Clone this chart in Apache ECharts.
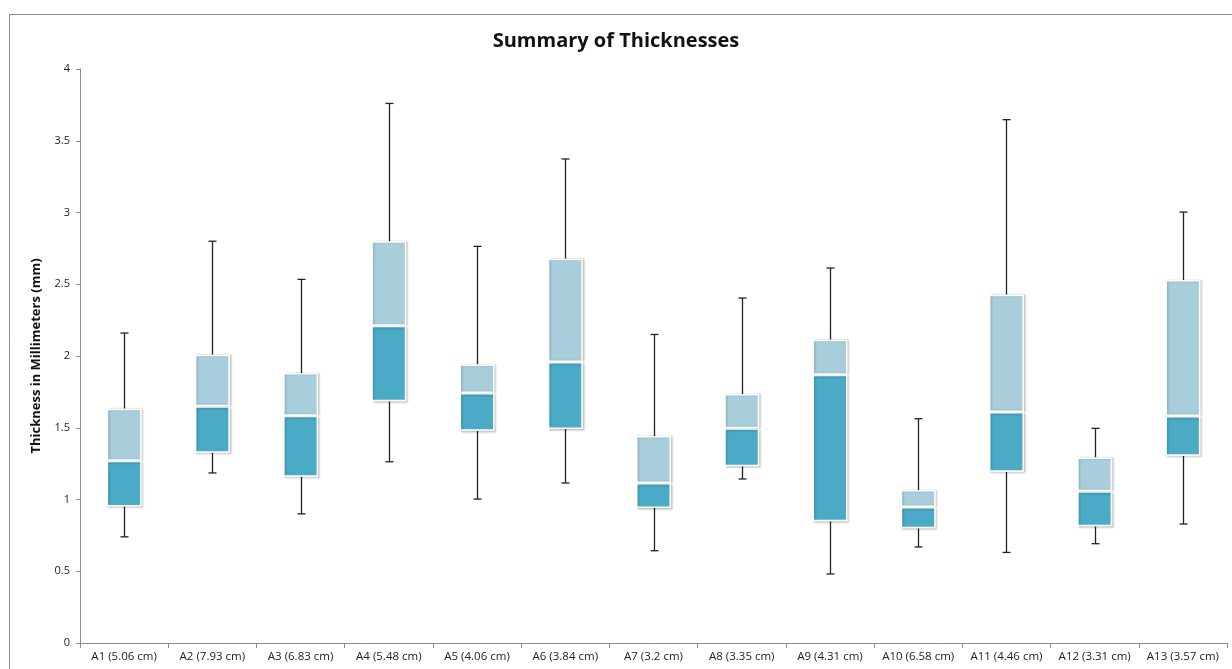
<!DOCTYPE html>
<html>
<head>
<meta charset="utf-8">
<script src="https://cdn.jsdelivr.net/npm/echarts@6/dist/echarts.min.js"></script>
<style>
html,body{margin:0;padding:0;background:#fff;}
#chart{width:1232px;height:669px;}
</style>
</head>
<body>
<div id="chart"></div>
<script>
const categories = ['A1 (5.06 cm)','A2 (7.93 cm)','A3 (6.83 cm)','A4 (5.48 cm)','A5 (4.06 cm)','A6 (3.84 cm)','A7 (3.2 cm)','A8 (3.35 cm)','A9 (4.31 cm)','A10 (6.58 cm)','A11 (4.46 cm)','A12 (3.31 cm)','A13 (3.57 cm)'];
const minVals    = [0.74, 1.185, 0.90, 1.263, 1.003, 1.115, 0.643, 1.143, 0.481, 0.669, 0.631, 0.692, 0.829];
const q1Vals     = [0.952, 1.326, 1.159, 1.684, 1.479, 1.491, 0.941, 1.231, 0.848, 0.799, 1.194, 0.813, 1.305];
const medianVals = [1.27, 1.649, 1.584, 2.211, 1.742, 1.958, 1.115, 1.496, 1.870, 0.948, 1.610, 1.057, 1.582];
const q3Vals     = [1.633, 2.009, 1.881, 2.80, 1.941, 2.678, 1.442, 1.735, 2.114, 1.066, 2.427, 1.293, 2.530];
const maxVals    = [2.16, 2.80, 2.534, 3.760, 2.764, 3.373, 2.150, 2.404, 2.613, 1.563, 3.647, 1.496, 3.003];

const lowerBox = medianVals.map((m, i) => +(m - q1Vals[i]).toFixed(4));
const upperBox = q3Vals.map((q, i) => +(q - medianVals[i]).toFixed(4));
const whiskerData = categories.map((c, i) => [i, minVals[i], q1Vals[i], q3Vals[i], maxVals[i]]);

const chart = echarts.init(document.getElementById('chart'));
const boxStyle = (color, offY) => ({
  color: color,
  borderColor: '#ffffff',
  borderWidth: 1.5,
  shadowColor: 'rgba(0,0,0,0.18)',
  shadowBlur: 2,
  shadowOffsetX: 1.5,
  shadowOffsetY: offY
});

chart.setOption({
  animation: false,
  backgroundColor: '#ffffff',
  title: {
    text: 'Summary of Thicknesses',
    left: 'center',
    top: 26,
    textStyle: {fontFamily: 'Open Sans', fontWeight: 'bold', fontSize: 20, color: '#111'}
  },
  graphic: [{
    type: 'rect',
    shape: {x: 9.5, y: 14.5, width: 1300, height: 700},
    style: {fill: null, stroke: '#8a8a8a', lineWidth: 1},
    silent: true,
    z: 0
  }],
  grid: {left: 80, right: 5, top: 69, bottom: 26},
  xAxis: {
    type: 'category',
    data: categories,
    boundaryGap: true,
    axisLine: {lineStyle: {color: '#8c8c8c'}},
    axisTick: {show: true, length: 5, lineStyle: {color: '#8c8c8c'}},
    axisLabel: {fontFamily: 'Open Sans', fontSize: 11.5, color: '#222', margin: 8, interval: 0}
  },
  yAxis: {
    type: 'value',
    min: 0, max: 4, interval: 0.5,
    name: 'Thickness in Millimeters (mm)',
    nameLocation: 'middle',
    nameGap: 37,
    nameRotate: 90,
    nameTextStyle: {fontFamily: 'Open Sans', fontWeight: 'bold', fontSize: 13, color: '#111'},
    axisLine: {show: true, lineStyle: {color: '#8c8c8c'}},
    axisTick: {show: true, length: 4, lineStyle: {color: '#8c8c8c'}},
    axisLabel: {fontFamily: 'Open Sans', fontSize: 11, color: '#222', margin: 10},
    splitLine: {show: false}
  },
  series: [
    {
      type: 'bar', stack: 'box', data: q1Vals, barWidth: 35,
      itemStyle: {color: 'transparent'}, silent: true
    },
    {
      type: 'bar', stack: 'box', data: lowerBox, barWidth: 35,
      itemStyle: boxStyle('#4babc6', 1.5)
    },
    {
      type: 'bar', stack: 'box', data: upperBox, barWidth: 35,
      itemStyle: boxStyle('#a8cedc', 0)
    },
    {
      type: 'custom',
      data: whiskerData,
      z: 1,
      renderItem: function (params, api) {
        const i = api.value(0);
        const pMin = api.coord([i, api.value(1)]);
        const pQ1 = api.coord([i, api.value(2)]);
        const pQ3 = api.coord([i, api.value(3)]);
        const pMax = api.coord([i, api.value(4)]);
        const x = Math.round(pMin[0]) + 0.5;
        const cap = 4;
        const st = {stroke: '#222', lineWidth: 1.3};
        return {
          type: 'group',
          children: [
            {type: 'line', shape: {x1: x, y1: pQ3[1], x2: x, y2: pMax[1]}, style: st},
            {type: 'line', shape: {x1: x - cap, y1: pMax[1], x2: x + cap, y2: pMax[1]}, style: st},
            {type: 'line', shape: {x1: x, y1: pQ1[1], x2: x, y2: pMin[1]}, style: st},
            {type: 'line', shape: {x1: x - cap, y1: pMin[1], x2: x + cap, y2: pMin[1]}, style: st}
          ]
        };
      }
    }
  ]
});
</script>
</body>
</html>
